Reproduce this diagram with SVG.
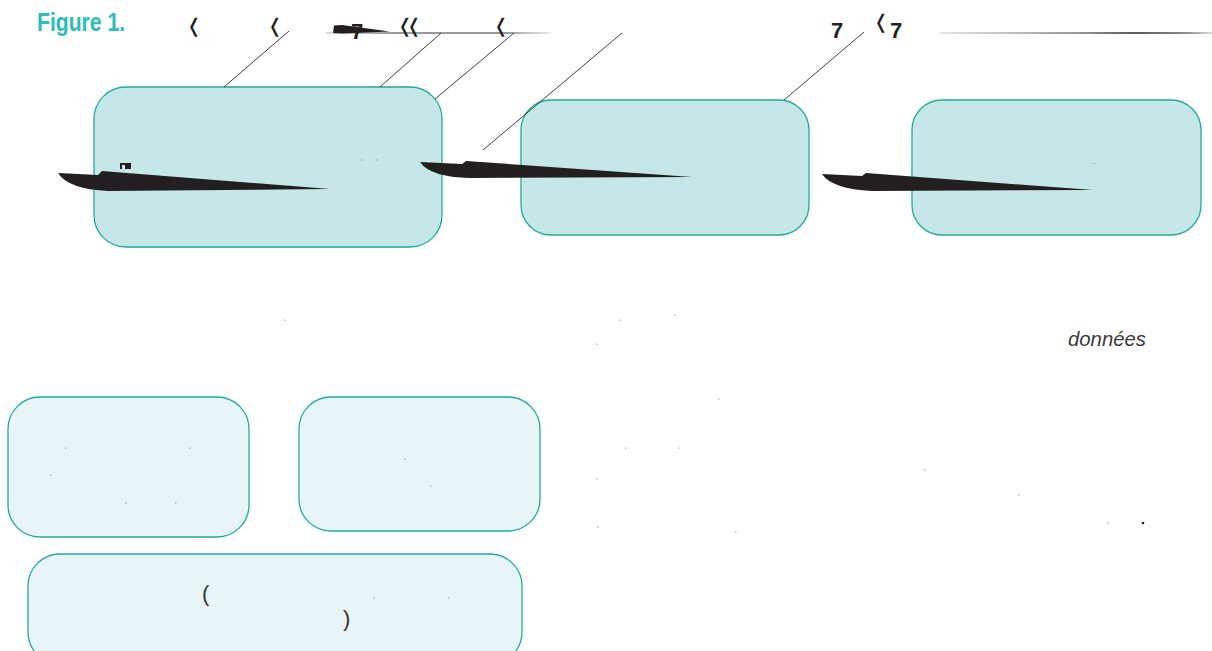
<svg xmlns="http://www.w3.org/2000/svg" width="1212" height="651" viewBox="0 0 1212 651">
<style>
.top{fill:#c5e7e7;stroke:#1fab9c;stroke-width:1.3}
.bot{fill:#e8f5f6;stroke:#1fab9c;stroke-width:1.3}
.lead{stroke:#2a2a2a;stroke-width:0.9;fill:none}
.glyph{font-family:"Liberation Sans",Arial,sans-serif;font-weight:bold;fill:#231f20}
.ang{font-family:"DejaVu Sans","Liberation Sans",sans-serif;font-weight:bold;fill:#231f20;font-size:19px}
.tick{font-family:"Liberation Sans",Arial,sans-serif;font-size:7px;fill:#333}
.wedge{fill:#231f20}
</style>
<defs>
<linearGradient id="hl1" x1="326" y1="0" x2="551" y2="0" gradientUnits="userSpaceOnUse">
<stop offset="0" stop-color="#bbb"/><stop offset="0.3" stop-color="#333"/><stop offset="0.8" stop-color="#333"/><stop offset="1" stop-color="#ddd"/>
</linearGradient>
<linearGradient id="hl2" x1="940" y1="0" x2="1212" y2="0" gradientUnits="userSpaceOnUse">
<stop offset="0" stop-color="#ddd"/><stop offset="0.5" stop-color="#777"/><stop offset="0.72" stop-color="#222"/><stop offset="0.9" stop-color="#666"/><stop offset="1" stop-color="#ccc"/>
</linearGradient>
</defs>
<rect width="1212" height="651" fill="#ffffff"/>
<text x="37" y="31" font-family="'Liberation Sans',Arial,sans-serif" font-weight="bold" font-size="26" fill="#2bbcbc" textLength="88" lengthAdjust="spacingAndGlyphs">Figure 1.</text>
<g id="nodeA"><rect class="top" x="94" y="87" width="348" height="160" rx="32"/></g>
<g id="nodeB"><rect class="top" x="521" y="100" width="288" height="135" rx="30"/></g>
<g id="nodeC"><rect class="top" x="912" y="100" width="289" height="135" rx="30"/></g>
<g id="nodeD"><rect class="bot" x="8" y="397" width="241" height="140" rx="32"/></g>
<g id="nodeE"><rect class="bot" x="299" y="397" width="241" height="134" rx="32"/></g>
<g id="nodeF"><rect class="bot" x="28" y="554" width="494" height="110" rx="32"/></g>
<g id="connectors">
<line class="lead" x1="289" y1="31" x2="224" y2="87"/>
<line class="lead" x1="441" y1="33" x2="380" y2="87"/>
<line class="lead" x1="514" y1="33" x2="435" y2="99"/>
<line class="lead" x1="622" y1="33" x2="483" y2="150"/>
<line class="lead" x1="864" y1="32" x2="784" y2="100"/>
<line x1="326" y1="33" x2="551" y2="33" stroke="url(#hl1)" stroke-width="1.2"/>
<line x1="940" y1="33" x2="1212" y2="33" stroke="url(#hl2)" stroke-width="1.6"/>
<path class="wedge" d="M333,33 L334,25.5 L342,25 L390,31.5 L342,33.5 Z"/>
<path class="wedge" d="M58,173 L98,175 L102,171 L330,189 L108,191 Q68,189 58,173 Z"/>
<path class="wedge" d="M420,162 L462,164 L466,161 L692,177 L470,178 Q430,177 420,162 Z"/>
<path class="wedge" d="M822,174 L862,176 L866,173 L1093,190 L872,191 Q832,189 822,174 Z"/>
</g>
<g id="labels">
<text class="ang" x="186" y="32">❬</text>
<text class="ang" x="267" y="32">❬</text>
<text class="glyph" x="351" y="39" font-size="22">7</text>
<text class="ang" x="397" y="32" letter-spacing="-7">❬❬</text>
<text class="ang" x="493" y="32">❬</text>
<text class="glyph" x="831" y="38" font-size="22">7</text>
<text class="glyph" x="873" y="28"><tspan class="ang" font-size="13">❬</tspan><tspan dx="1" dy="10" font-size="22">7</tspan></text>
<rect x="120" y="163" width="11" height="6" fill="#231f20"/>
<rect x="122" y="165" width="3" height="4" fill="#c5e7e7"/>
<text class="tick" x="361" y="165">ʻ</text>
<text class="tick" x="376" y="165">ʻ</text>
<text class="tick" x="1093" y="166">·</text>
<text x="1146" y="346" text-anchor="end" font-family="'Liberation Sans',Arial,sans-serif" font-style="italic" font-size="20" fill="#3a3a3a" textLength="78" lengthAdjust="spacingAndGlyphs">données</text>
<text class="tick" x="284" y="325">ʻ</text>
<text class="tick" x="619" y="325">ʻ</text>
<text class="tick" x="674" y="320">ʻ</text>
<text class="tick" x="596" y="349">ʻ</text>
<text class="tick" x="718" y="404">ʻ</text>
<text class="tick" x="625" y="453">ʻ</text>
<text class="tick" x="678" y="453">ʻ</text>
<text class="tick" x="596" y="484">ʻ</text>
<text class="tick" x="924" y="475">ʻ</text>
<text class="tick" x="1018" y="500">ʻ</text>
<text class="tick" x="597" y="532">ʻ</text>
<text class="tick" x="735" y="537">ʻ</text>
<text class="tick" x="1107" y="528">ʻ</text>
<circle cx="1143" cy="523" r="1.3" fill="#231f20"/>
<text class="tick" x="65" y="453">ʻ</text>
<text class="tick" x="189" y="453">ʻ</text>
<text class="tick" x="50" y="480">ʻ</text>
<text class="tick" x="125" y="508">ʻ</text>
<text class="tick" x="175" y="508">ʻ</text>
<text class="tick" x="404" y="464">ʻ</text>
<text class="tick" x="430" y="491">ʻ</text>
<text class="tick" x="373" y="603">ʻ</text>
<text class="tick" x="448" y="603">ʻ</text>
<text x="202" y="601" font-family="'Liberation Sans',Arial,sans-serif" font-size="22" fill="#333">(</text>
<text x="343" y="626" font-family="'Liberation Sans',Arial,sans-serif" font-size="22" fill="#333">)</text>
</g>
</svg>
